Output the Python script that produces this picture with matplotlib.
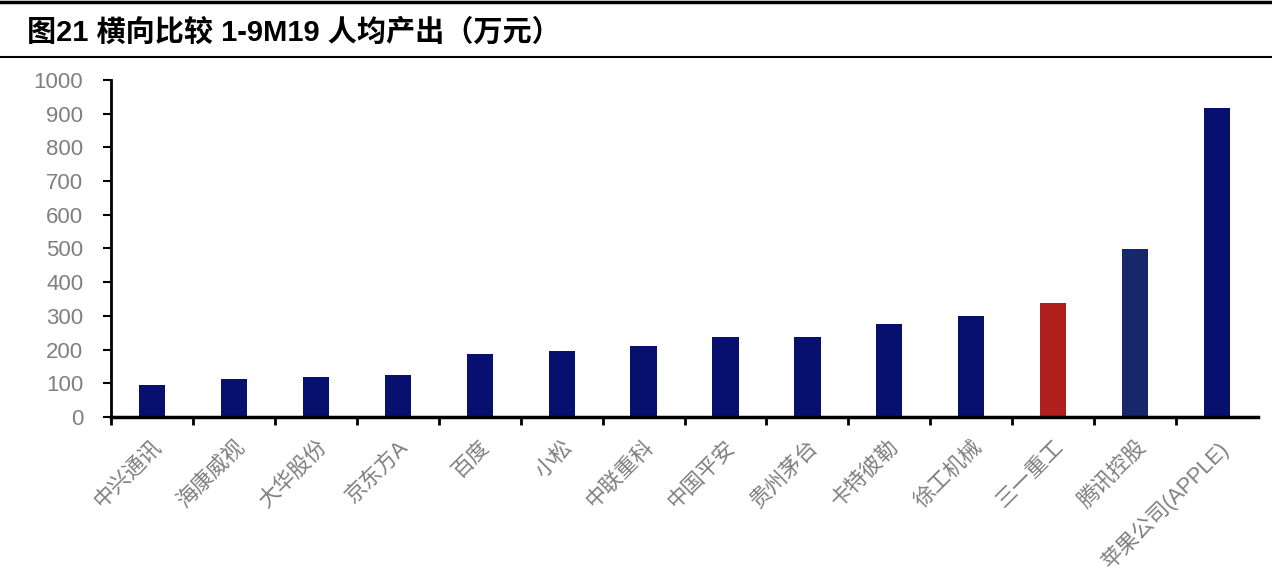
import numpy as np
import matplotlib.pyplot as plt
from matplotlib.lines import Line2D

plt.rcParams['font.family'] = ['Liberation Sans', 'Noto Sans CJK SC']

companies = ['中兴通讯', '海康威视', '大华股份', '京东方A', '百度', '小松', '中联重科',
             '中国平安', '贵州茅台', '卡特彼勒', '徐工机械', '三一重工', '腾讯控股',
             '苹果公司(APPLE)']
output = [95, 113, 119, 125, 187, 196, 211, 237, 237, 276, 300, 338, 499, 917]
colors = ['#08106f'] * 11 + ['#b0201c', '#17276c', '#08106f']

fig = plt.figure(figsize=(12.72, 5.84), dpi=100)
ax = fig.add_axes([0.0873, 0.286, 0.9017, 0.577])

x = np.arange(len(companies))
ax.bar(x, output, width=0.32, color=colors, zorder=2)

ax.set_xlim(-0.5, len(companies) - 0.5)
ax.set_ylim(0, 1000)
ax.set_yticks(np.arange(0, 1001, 100))
ax.tick_params(axis='y', labelsize=16, labelcolor='#7f7f7f', length=6, width=1.5,
               direction='out', pad=14)

ax.set_xticks(x)
ax.set_xticklabels(companies, rotation=45, ha='right', rotation_mode='anchor',
                   fontsize=15.5, color='#7f7f7f')
ax.tick_params(axis='x', length=0, pad=14)
ax.set_xticks(np.arange(-0.5, len(companies) - 1), minor=True)
ax.tick_params(axis='x', which='minor', length=6, width=2, direction='out')

for s in ['top', 'right']:
    ax.spines[s].set_visible(False)
ax.spines['left'].set_linewidth(2)
ax.spines['bottom'].set_linewidth(2.5)

# title and rules
fig.add_artist(Line2D([0, 1], [0.996, 0.996], color='black', lw=2.5))
fig.add_artist(Line2D([0, 1], [0.902, 0.902], color='black', lw=1.5))
fig.text(0.021, 0.945, '图21 横向比较 1-9M19 人均产出（万元）', fontsize=21,
         fontweight='bold', va='center', ha='left')

fig.savefig('out.png', dpi=100)
